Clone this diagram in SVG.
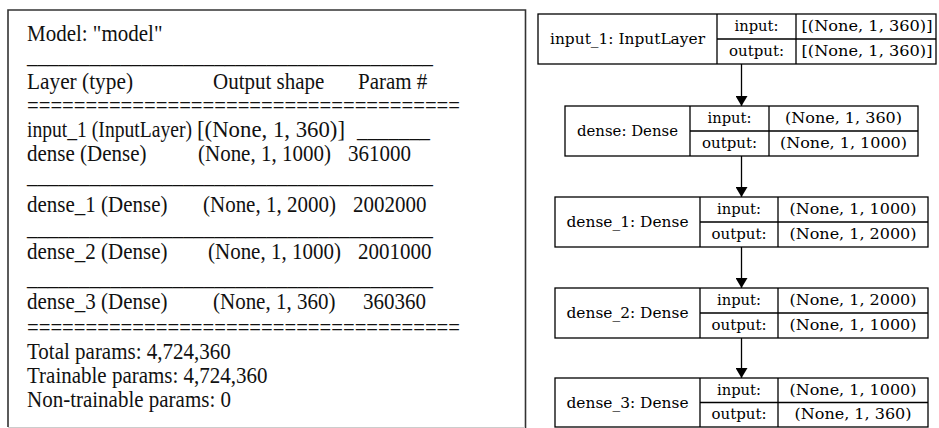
<svg xmlns="http://www.w3.org/2000/svg" width="939" height="428" viewBox="0 0 939 428">
<style>
.s{font-family:"Liberation Serif","Times New Roman",serif;font-size:21px;fill:#111}
.g{font-family:"DejaVu Serif","Liberation Serif",serif;font-size:15px;fill:#000}
.m{text-anchor:middle}
.box{fill:#fff;stroke:#000;stroke-width:1.3}
.ln{stroke:#000;stroke-width:1.3;fill:none}
.edge{stroke:#000;stroke-width:1.3;fill:none}
</style>
<defs>
<marker id="ah" viewBox="0 0 10 12" refX="10" refY="6" markerWidth="10" markerHeight="12" markerUnits="userSpaceOnUse" orient="auto">
<path d="M0,0 L10,6 L0,12 Z" fill="#000"/>
</marker>
</defs>
<rect x="0" y="0" width="939" height="428" fill="#fff"/>

<g id="summary">
<path d="M8,427 V10 H525.5 V428" fill="none" stroke="#333" stroke-width="1.6"/>
<line x1="8" y1="427.5" x2="525" y2="427.5" stroke="#ccc" stroke-width="1"/>
<g transform="matrix(1,0,0,1.08,0,0)">
<text class="s" x="27" y="37.96">Model: "model"</text>
<text class="s" x="27" y="58.8" textLength="406" lengthAdjust="spacingAndGlyphs">_______________________________________</text>
<text class="s" x="27" y="82.41" textLength="106" lengthAdjust="spacingAndGlyphs">Layer (type)</text>
<text class="s" x="213" y="82.41">Output shape</text>
<text class="s" x="358" y="82.41">Param #</text>
<text class="s" x="27" y="104.63" textLength="433" lengthAdjust="spacingAndGlyphs">=====================================</text>
<text class="s" x="27" y="126.85" textLength="165" lengthAdjust="spacingAndGlyphs">input_1 (InputLayer)</text>
<text class="s" x="197" y="126.85" textLength="148" lengthAdjust="spacingAndGlyphs">[(None, 1, 360)]</text>
<text class="s" x="357" y="126.85" textLength="73" lengthAdjust="spacingAndGlyphs">_______</text>
<text class="s" x="27" y="149.07">dense (Dense)</text>
<text class="s" x="198" y="149.07">(None, 1, 1000)</text>
<text class="s" x="348" y="149.07">361000</text>
<text class="s" x="27" y="169" textLength="406" lengthAdjust="spacingAndGlyphs">_______________________________________</text>
<text class="s" x="27" y="196.3">dense_1 (Dense)</text>
<text class="s" x="203" y="196.3">(None, 1, 2000)</text>
<text class="s" x="353" y="196.3">2002000</text>
<text class="s" x="27" y="218" textLength="406" lengthAdjust="spacingAndGlyphs">_______________________________________</text>
<text class="s" x="27" y="239.81">dense_2 (Dense)</text>
<text class="s" x="208" y="239.81">(None, 1, 1000)</text>
<text class="s" x="358" y="239.81">2001000</text>
<text class="s" x="27" y="264.3" textLength="406" lengthAdjust="spacingAndGlyphs">_______________________________________</text>
<text class="s" x="27" y="286.11">dense_3 (Dense)</text>
<text class="s" x="213" y="286.11">(None, 1, 360)</text>
<text class="s" x="363" y="286.11">360360</text>
<text class="s" x="27" y="310.19" textLength="433" lengthAdjust="spacingAndGlyphs">=====================================</text>
<text class="s" x="27" y="332.41">Total params: 4,724,360</text>
<text class="s" x="27" y="354.63">Trainable params: 4,724,360</text>
<text class="s" x="27" y="376.85">Non-trainable params: 0</text>
</g>
</g>

<g id="connectors">
<line class="edge" x1="741.5" y1="64" x2="741.5" y2="106" marker-end="url(#ah)"/>
<line class="edge" x1="741.5" y1="156" x2="741.5" y2="197" marker-end="url(#ah)"/>
<line class="edge" x1="741.5" y1="247" x2="741.5" y2="288" marker-end="url(#ah)"/>
<line class="edge" x1="741.5" y1="338" x2="741.5" y2="378" marker-end="url(#ah)"/>
</g>

<g id="input_1">
<rect class="box" x="538" y="14" width="398" height="50"/>
<path class="ln" d="M717,14 V64 M796,14 V64 M717,39 H936"/>
<text class="g m" x="627.5" y="44" textLength="155" lengthAdjust="spacingAndGlyphs">input_1: InputLayer</text>
<text class="g m" x="756.5" y="31" textLength="44" lengthAdjust="spacingAndGlyphs">input:</text>
<text class="g m" x="756.5" y="56" textLength="55" lengthAdjust="spacingAndGlyphs">output:</text>
<text class="g m" x="867" y="31" textLength="131" lengthAdjust="spacingAndGlyphs">[(None, 1, 360)]</text>
<text class="g m" x="867" y="56" textLength="131" lengthAdjust="spacingAndGlyphs">[(None, 1, 360)]</text>
</g>

<g id="dense">
<rect class="box" x="565" y="106" width="353" height="50"/>
<path class="ln" d="M690,106 V156 M769,106 V156 M690,131 H918"/>
<text class="g m" x="627.5" y="136" textLength="101" lengthAdjust="spacingAndGlyphs">dense: Dense</text>
<text class="g m" x="729.5" y="123" textLength="44" lengthAdjust="spacingAndGlyphs">input:</text>
<text class="g m" x="729.5" y="148" textLength="55" lengthAdjust="spacingAndGlyphs">output:</text>
<text class="g m" x="843.5" y="123" textLength="117" lengthAdjust="spacingAndGlyphs">(None, 1, 360)</text>
<text class="g m" x="843.5" y="148" textLength="127" lengthAdjust="spacingAndGlyphs">(None, 1, 1000)</text>
</g>

<g id="dense_1">
<rect class="box" x="555" y="197" width="373" height="50"/>
<path class="ln" d="M700,197 V247 M778,197 V247 M700,222 H928"/>
<text class="g m" x="627.5" y="227" textLength="122" lengthAdjust="spacingAndGlyphs">dense_1: Dense</text>
<text class="g m" x="739" y="214" textLength="44" lengthAdjust="spacingAndGlyphs">input:</text>
<text class="g m" x="739" y="239" textLength="55" lengthAdjust="spacingAndGlyphs">output:</text>
<text class="g m" x="853" y="214" textLength="127" lengthAdjust="spacingAndGlyphs">(None, 1, 1000)</text>
<text class="g m" x="853" y="239" textLength="127" lengthAdjust="spacingAndGlyphs">(None, 1, 2000)</text>
</g>

<g id="dense_2">
<rect class="box" x="555" y="288" width="373" height="50"/>
<path class="ln" d="M700,288 V338 M778,288 V338 M700,313 H928"/>
<text class="g m" x="627.5" y="318" textLength="122" lengthAdjust="spacingAndGlyphs">dense_2: Dense</text>
<text class="g m" x="739" y="305" textLength="44" lengthAdjust="spacingAndGlyphs">input:</text>
<text class="g m" x="739" y="330" textLength="55" lengthAdjust="spacingAndGlyphs">output:</text>
<text class="g m" x="853" y="305" textLength="127" lengthAdjust="spacingAndGlyphs">(None, 1, 2000)</text>
<text class="g m" x="853" y="330" textLength="127" lengthAdjust="spacingAndGlyphs">(None, 1, 1000)</text>
</g>

<g id="dense_3">
<rect class="box" x="555" y="378" width="373" height="49"/>
<path class="ln" d="M700,378 V427 M778,378 V427 M700,402.5 H928"/>
<text class="g m" x="627.5" y="407.5" textLength="122" lengthAdjust="spacingAndGlyphs">dense_3: Dense</text>
<text class="g m" x="739" y="395" textLength="44" lengthAdjust="spacingAndGlyphs">input:</text>
<text class="g m" x="739" y="419" textLength="55" lengthAdjust="spacingAndGlyphs">output:</text>
<text class="g m" x="853" y="395" textLength="127" lengthAdjust="spacingAndGlyphs">(None, 1, 1000)</text>
<text class="g m" x="853" y="419" textLength="117" lengthAdjust="spacingAndGlyphs">(None, 1, 360)</text>
</g>
</svg>
